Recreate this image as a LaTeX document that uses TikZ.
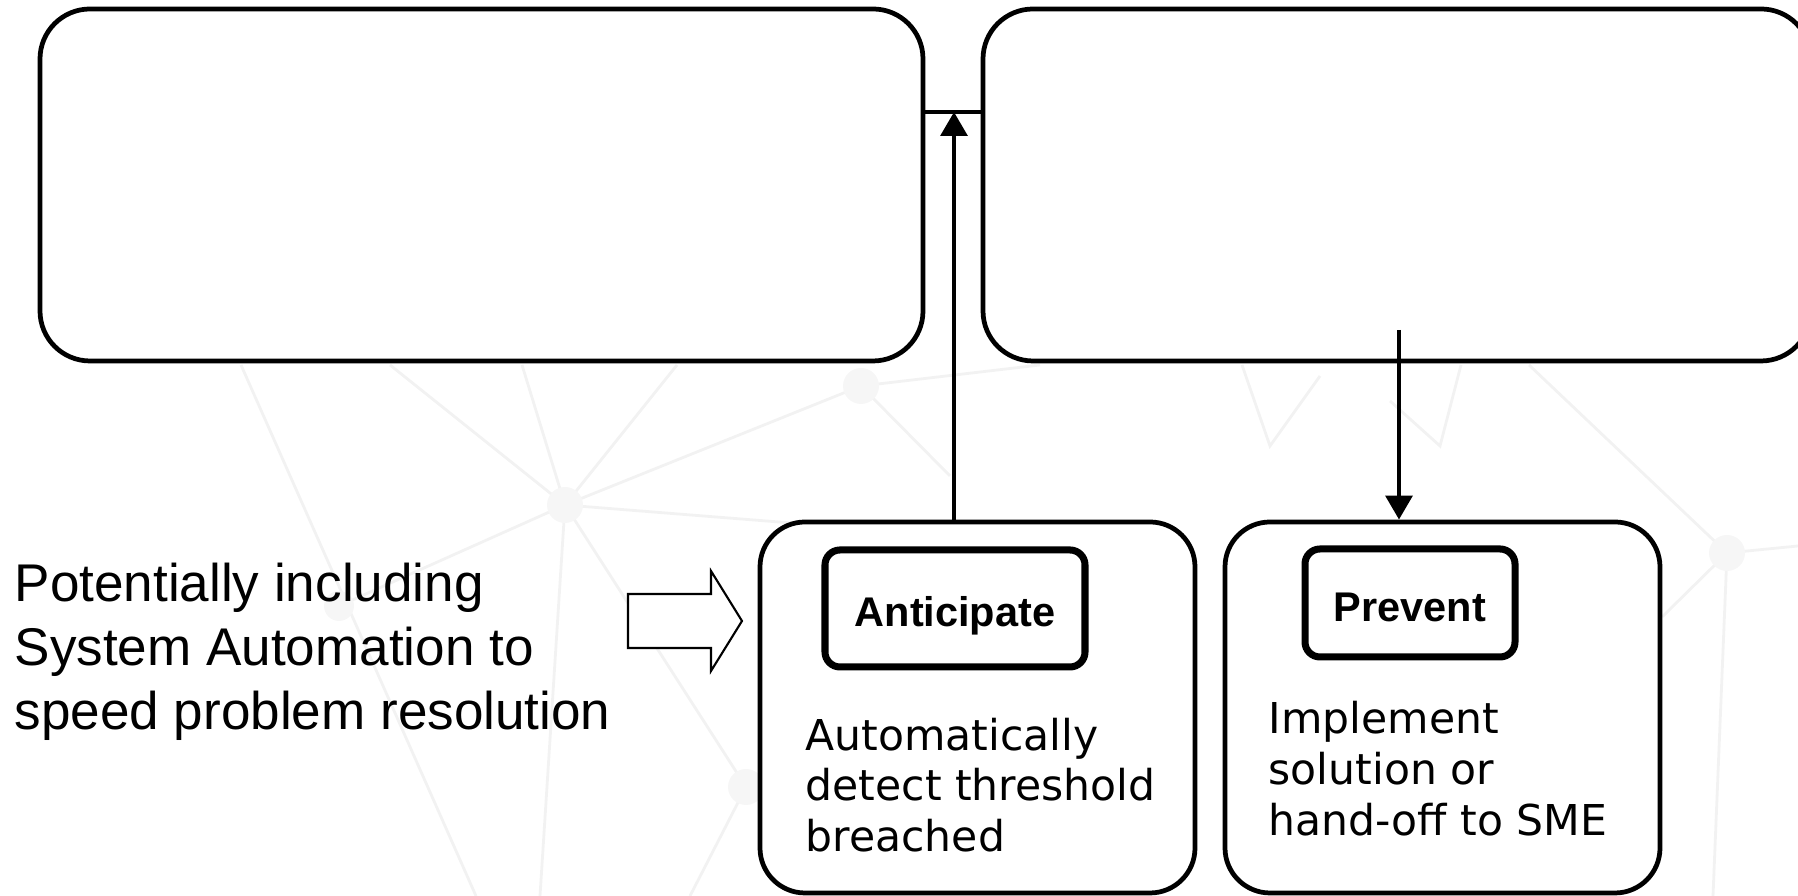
\documentclass[tikz,border=0pt]{standalone}
\usepackage{fontspec}
\setmainfont{Liberation Sans}
\newfontfamily\verdana{DejaVu Sans}
\usetikzlibrary{arrows.meta}

\begin{document}
\begin{tikzpicture}[bigbox/.style={draw,line width=1.35pt,rounded corners=0.5cm,fill=white},
    cardbox/.style={draw,line width=1.35pt,rounded corners=0.45cm,fill=white},
    tagbox/.style={draw,line width=2pt,rounded corners=0.15cm,fill=white,text height=0.46cm,text depth=0.09cm,font=\bfseries\fontsize{11.8}{14}\selectfont},
    bodytext/.style={align=left,anchor=north west,inner sep=0pt,font=\verdana\fontsize{12.1}{14.5}\selectfont},
    flow/.style={-{Triangle[width=7.5pt,length=6.8pt]},line width=1.35pt},
    faint/.style={color=black!5,line width=0.8pt}]
    %myborder
    \useasboundingbox (0,0) rectangle (17.98,8.96);

    %backgroundnet
    \draw [faint] (2.41,5.31) -- (4.76,0);
    \draw [faint] (5.65,3.91) -- (3.90,5.31) (5.65,3.91) -- (5.22,5.31) (5.65,3.91) -- (6.77,5.31);
    \draw [faint] (5.65,3.91) -- (8.61,5.10) (5.65,3.91) -- (8.04,3.72) (5.65,3.91) -- (3.39,2.90);
    \draw [faint] (5.65,3.91) -- (7.46,1.09) (5.65,3.91) -- (5.40,0) (7.46,1.09) -- (6.90,0);
    \draw [faint] (8.61,5.10) -- (9.50,4.20) (8.61,5.10) -- (10.40,5.31);
    \draw [faint] (12.42,5.31) -- (12.70,4.50) -- (13.20,5.20) (14.61,5.31) -- (14.40,4.50) -- (13.90,4.95);
    \draw [faint] (15.29,5.31) -- (17.27,3.43) -- (17.98,3.50) (17.27,3.43) -- (17.13,0) (17.27,3.43) -- (16.62,2.79);
    \fill [black!3.5] (5.65,3.91) circle (0.18) (8.61,5.10) circle (0.18) (7.46,1.09) circle (0.18) (17.27,3.43) circle (0.18) (3.39,2.90) circle (0.15);

    %topboxes
    \node [bigbox,minimum width=8.83cm,minimum height=3.52cm] (leftpanel) at (4.815,7.11) {};
    \node [bigbox,minimum width=8.28cm,minimum height=3.52cm] (rightpanel) at (13.97,7.11) {};
    \coordinate (joint) at (9.54,7.84);
    \draw [line width=1.35pt] (leftpanel.east |- joint) -- (rightpanel.west |- joint);

    %cards
    \node [cardbox,minimum width=4.35cm,minimum height=3.71cm] (anticipate) at (9.775,1.885) {};
    \node [cardbox,minimum width=4.35cm,minimum height=3.71cm] (prevent) at (14.425,1.885) {};
    \node [tagbox,minimum width=2.60cm,minimum height=1.17cm] (anticipatetag) at (9.55,2.875) {Anticipate};
    \node [tagbox,minimum width=2.10cm,minimum height=1.08cm] (preventtag) at (14.10,2.93) {Prevent};
    \node [bodytext] (anticipatetext) at (8.05,1.79) {Automatically\\detect threshold\\breached};
    \node [bodytext] (preventtext) at (12.68,1.95) {Implement\\solution or\\hand-off to SME};

    %links
    \draw [flow] (anticipate.north -| joint) -- (joint);
    \coordinate (handoff) at (13.99,5.66);
    \draw [flow] (handoff) -- (handoff |- prevent.north);

    %note
    \node [align=left,anchor=north west,inner sep=0pt,font=\fontsize{15.1}{18.2}\selectfont] (note) at (0.14,3.34) {Potentially including\\System Automation to\\speed problem resolution};
    \draw [line width=0.6pt,fill=white] (6.28,3.02) -- (7.11,3.02) -- (7.11,3.25) -- (7.42,2.75) -- (7.11,2.25) -- (7.11,2.48) -- (6.28,2.48) -- cycle;

  \end{tikzpicture}
\end{document}
